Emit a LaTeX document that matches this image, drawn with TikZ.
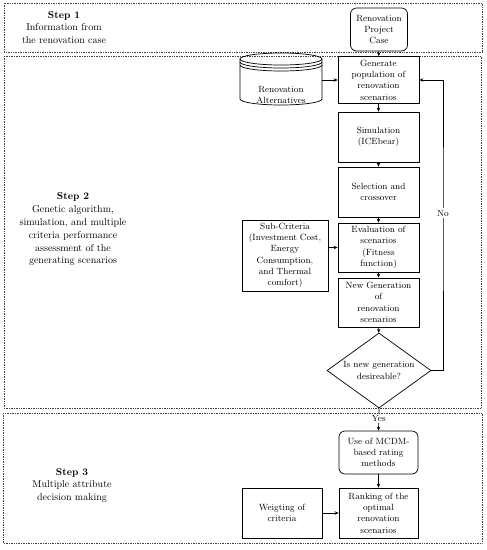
\documentclass[tikz,border=0pt]{standalone}
\usetikzlibrary{shapes.geometric,arrows.meta,calc}
\begin{document}
\begin{tikzpicture}[x=1pt,y=-1pt,
  frame/.style={draw=black!75, densely dotted, line width=0.7pt},
  box/.style={draw, line width=0.7pt, align=center, inner sep=1pt, font=\fontsize{9}{11.3}\selectfont},
  rbox/.style={box, rounded corners=6pt},
  arr/.style={line width=0.7pt, -{Stealth[length=4pt,width=3.5pt]}},
  steptext/.style={align=center, font=\fontsize{10}{12.8}\selectfont}]
\useasboundingbox (0,0) rectangle (487,550);
% frames
\draw[frame] (4,3) rectangle (482,52);
\draw[frame] (4,56) rectangle (481,408);
\draw[frame] (3,413) rectangle (482,543);
% step texts
\node[steptext] (s1) at (64,27.5) {\textbf{Step 1}\\Information from\\the renovation case};
\node[steptext] (s2) at (73,229.5) {\textbf{Step 2}\\Genetic algorithm,\\simulation, and multiple\\criteria performance\\assessment of the\\generating scenarios};
\node[steptext] (s3) at (72,485.5) {\textbf{Step 3}\\Multiple attribute\\decision making};
% main column
\node[rbox, minimum width=57, minimum height=43, text width=55] (proj) at (379,29.5) {Renovation\\Project\\Case};
\node[box, minimum width=81, minimum height=47, text width=78] (gen) at (378.5,80) {Generate\\population of\\renovation\\scenarios};
\node[box, minimum width=81, minimum height=50, text width=78] (sim) at (378.5,137) {Simulation\\(ICEbear)};
\node[box, minimum width=81, minimum height=50, text width=78] (sel) at (378.5,192) {Selection and\\crossover};
\node[box, minimum width=81, minimum height=49, text width=78] (eval) at (378.5,247.5) {Evaluation of\\scenarios\\(Fitness\\function)};
\node[box, minimum width=81, minimum height=49, text width=78] (newgen) at (378.5,302.5) {New Generation\\of\\renovation\\scenarios};
\node[draw, line width=0.7pt, diamond, minimum width=104, minimum height=75, inner sep=0pt] (dec) at (379,370.5) {};
\node[align=center, font=\fontsize{9}{11.3}\selectfont] (dectext) at (379,370.5) {Is new generation\\desireable?};
\node[rbox, minimum width=79, minimum height=43, text width=76] (mcdm) at (378.5,452.5) {Use of MCDM-\\based rating\\methods};
\node[box, minimum width=79, minimum height=50, text width=76] (rank) at (378.5,513) {Ranking of the\\optimal\\renovation\\scenarios};
\node[box, minimum width=80, minimum height=50, text width=77] (weight) at (282,513) {Weigting of\\criteria};
\node[box, minimum width=86, minimum height=71, text width=84] (sub) at (285,255.5) {Sub-Criteria\\(Investment Cost,\\Energy\\Consumption,\\and Thermal\\comfort)};
% cylinder
\node[minimum width=82, minimum height=52, inner sep=0pt] (alt) at (281,79) {};
\draw[line width=0.7pt, fill=white] (240,59) -- (240,99) arc[start angle=180, end angle=0, x radius=41, y radius=6] -- (322,59);
\draw[line width=0.7pt] (281,59) ellipse [x radius=41, y radius=6];
\draw[line width=0.7pt] (240,62) arc[start angle=180, end angle=0, x radius=41, y radius=6];
\draw[line width=0.7pt] (240,65) arc[start angle=180, end angle=0, x radius=41, y radius=6];
\node[align=center, font=\fontsize{9}{11.3}\selectfont] (altlabel) at (281,95) {Renovation\\Alternatives};
% connectors
\draw[arr] (proj) -- (gen);
\draw[arr] (gen) -- (sim);
\draw[arr] (sim) -- (sel);
\draw[arr] (sel) -- (eval);
\draw[arr] (eval) -- (newgen);
\draw[arr] (newgen) -- (dec);
\draw[arr] (alt.east |- gen.west) -- (gen.west);
\draw[arr] (sub.east |- eval.west) -- (eval.west);
\draw[arr] (dec.east) -- (443,370.5) -- (443,213) node[fill=white, inner sep=1.5pt, font=\fontsize{9}{11}\selectfont] (no) {No} -- (443,80) -- (gen.east);
\draw[arr] (dec.south) -- node[pos=0.45, fill=white, inner sep=1pt, font=\fontsize{9}{11}\selectfont] (yes) {Yes} (mcdm.north);
\draw[arr] (mcdm) -- (rank);
\draw[arr] (weight) -- (rank);
\end{tikzpicture}
\end{document}
